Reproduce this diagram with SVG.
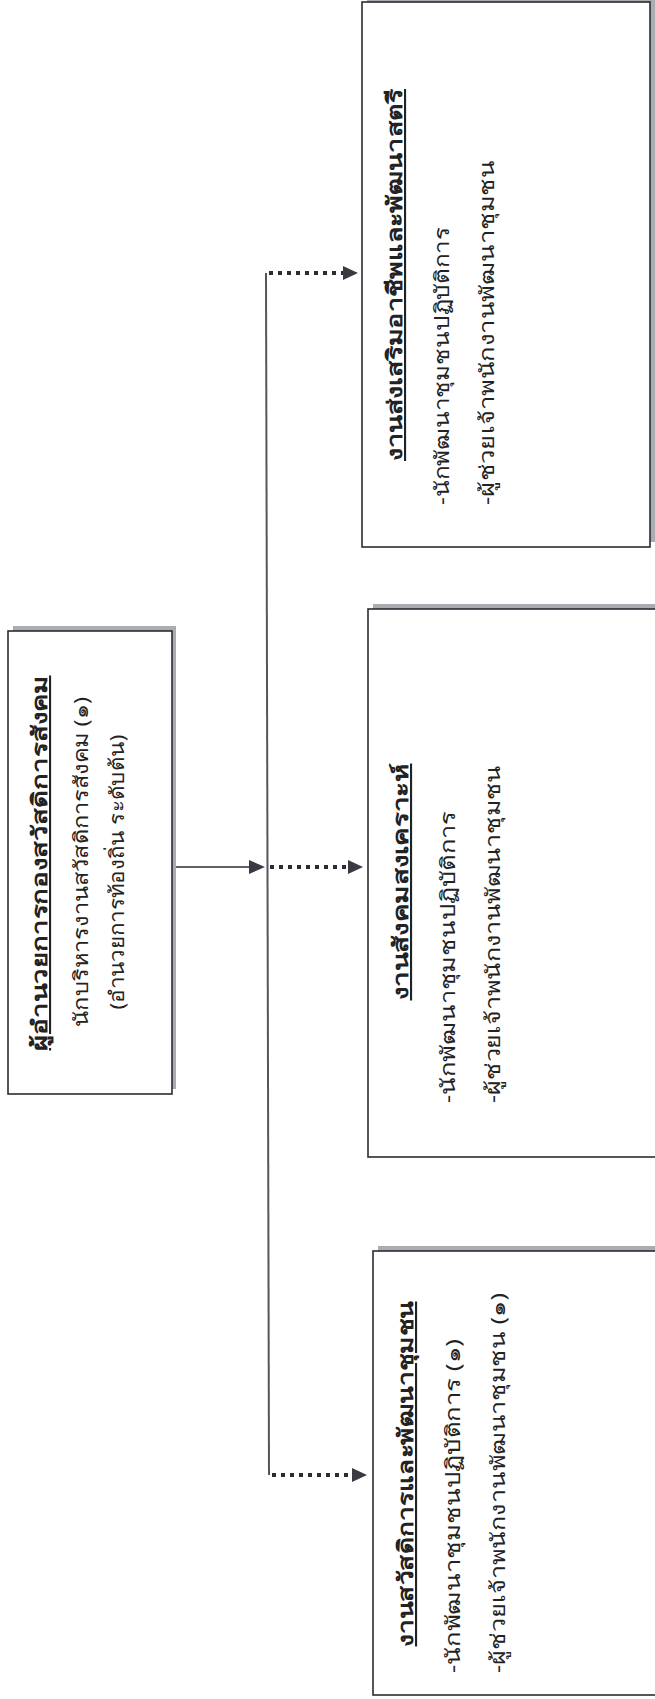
<svg xmlns="http://www.w3.org/2000/svg" width="655" height="1699" viewBox="0 0 655 1699">
<style>
.box{fill:#fff;stroke:#2b2b33;stroke-width:1.6}
.sh{fill:#a9acb0}
.t{font-family:"Noto Sans","DejaVu Sans",sans-serif;fill:#222;font-size:20px}
.h{font-weight:bold;font-size:21px;text-decoration:underline;text-anchor:middle}
.c{text-anchor:middle}
.solid{stroke:#2b2b33;stroke-width:1.5;fill:none}
.vl{stroke:#55565c;stroke-width:2;fill:none}
.dash{stroke:#2b2b33;stroke-width:4;stroke-dasharray:4 5;fill:none}
.ah{fill:#3a3a42}
</style>
<rect width="655" height="1699" fill="#fff"/>
<g id="connectors">
<line class="solid" x1="175" y1="867" x2="250" y2="867"/>
<path class="ah" d="M249,860 L265,867 L249,874 Z"/>
<line class="vl" x1="266" y1="273" x2="269" y2="1475"/>
<line class="dash" x1="269" y1="273" x2="344" y2="273"/>
<path class="ah" d="M343,266 L358,273 L343,280 Z"/>
<line class="dash" x1="270" y1="867" x2="349" y2="867"/>
<path class="ah" d="M348,860 L363,867 L348,874 Z"/>
<line class="dash" x1="272" y1="1475" x2="353" y2="1475"/>
<path class="ah" d="M352,1468 L367,1475 L352,1482 Z"/>
</g>
<g id="director">
<rect class="sh" x="13" y="626" width="163" height="463"/>
<rect class="box" x="8" y="631" width="164" height="463"/>
<text class="t h" transform="translate(47,863) rotate(-90)" textLength="375" lengthAdjust="spacingAndGlyphs">ผู้อำนวยการกองสวัสดิการสังคม</text>
<text class="t c" transform="translate(88,862) rotate(-90)" textLength="330" lengthAdjust="spacingAndGlyphs">นักบริหารงานสวัสดิการสังคม  (๑)</text>
<text class="t c" transform="translate(124,872) rotate(-90)" textLength="275" lengthAdjust="spacingAndGlyphs">(อำนวยการท้องถิ่น ระดับต้น)</text>
</g>
<g id="box-women">
<rect class="sh" x="367" y="-3" width="288" height="545"/>
<rect class="box" x="362" y="2" width="288" height="545"/>
<text class="t h" transform="translate(402,275) rotate(-90)" textLength="372" lengthAdjust="spacingAndGlyphs">งานส่งเสริมอาชีพและพัฒนาสตรี</text>
<text class="t" transform="translate(449,505) rotate(-90)" textLength="278" lengthAdjust="spacingAndGlyphs">-นักพัฒนาชุมชนปฏิบัติการ</text>
<text class="t" transform="translate(494,505) rotate(-90)" textLength="345" lengthAdjust="spacingAndGlyphs">-ผู้ช่วยเจ้าพนักงานพัฒนาชุมชน</text>
</g>
<g id="box-social">
<rect class="sh" x="373" y="604" width="290" height="548"/>
<rect class="box" x="368" y="609" width="292" height="548"/>
<text class="t h" transform="translate(408,882) rotate(-90)" textLength="237" lengthAdjust="spacingAndGlyphs">งานสังคมสงเคราะห์</text>
<text class="t" transform="translate(455,1103) rotate(-90)" textLength="292" lengthAdjust="spacingAndGlyphs">-นักพัฒนาชุมชนปฏิบัติการ</text>
<text class="t" transform="translate(500,1103) rotate(-90)" textLength="338" lengthAdjust="spacingAndGlyphs">-ผู้ช่วยเจ้าพนักงานพัฒนาชุมชน</text>
</g>
<g id="box-welfare">
<rect class="sh" x="378" y="1246" width="290" height="444"/>
<rect class="box" x="373" y="1251" width="292" height="444"/>
<text class="t h" transform="translate(413,1474) rotate(-90)" textLength="345" lengthAdjust="spacingAndGlyphs">งานสวัสดิการและพัฒนาชุมชน</text>
<text class="t" transform="translate(460,1673) rotate(-90)" textLength="334" lengthAdjust="spacingAndGlyphs">-นักพัฒนาชุมชนปฏิบัติการ (๑)</text>
<text class="t" transform="translate(505,1673) rotate(-90)" textLength="380" lengthAdjust="spacingAndGlyphs">-ผู้ช่วยเจ้าพนักงานพัฒนาชุมชน (๑)</text>
</g>
</svg>
